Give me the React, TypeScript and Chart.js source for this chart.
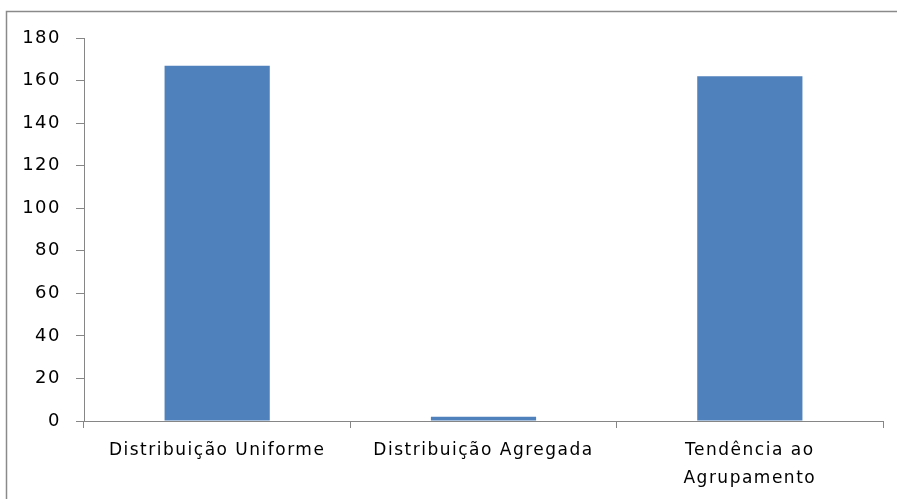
import React, { useEffect, useRef } from "react";
import { Chart, registerables } from "chart.js";

Chart.register(...registerables);

const categories: (string | string[])[] = [
  "Distribuição Uniforme",
  "Distribuição Agregada",
  ["Tendência ao", "Agrupamento"],
];
const values: number[] = [167, 2, 162];
const yMin = 0;
const yMax = 180;
const yStep = 20;

const spacing = {
  id: "spacing",
  beforeUpdate(chart: any) {
    chart.ctx.letterSpacing = "1.5px";
  },
  beforeDraw(chart: any) {
    chart.ctx.letterSpacing = "1.5px";
  },
};

const frame = {
  id: "frame",
  afterDraw(chart: any) {
    const ctx = chart.ctx;
    ctx.save();
    ctx.strokeStyle = "#8a8a8a";
    ctx.lineWidth = 1.5;
    ctx.beginPath();
    ctx.moveTo(897, 11.5);
    ctx.lineTo(6.5, 11.5);
    ctx.lineTo(6.5, 499);
    ctx.stroke();
    ctx.restore();
  },
};

export default function App() {
  const ref = useRef<HTMLCanvasElement>(null);
  useEffect(() => {
    if (!ref.current) return;
    const chart = new Chart(ref.current, {
      type: "bar",
      data: {
        labels: categories,
        datasets: [
          {
            data: values,
            backgroundColor: "#4F81BD",
            categoryPercentage: 1,
            barPercentage: 0.395,
          },
        ],
      },
      options: {
        responsive: false,
        animation: false,
        devicePixelRatio: 1,
        layout: { padding: { top: 38, right: 14, left: 0, bottom: 0 } },
        plugins: { legend: { display: false }, tooltip: { enabled: false } },
        scales: {
          x: {
            offset: true,
            grid: {
              offset: true,
              drawOnChartArea: false,
              drawTicks: true,
              tickLength: 7,
              color: "#868686",
            },
            border: { display: true, color: "#868686" },
            ticks: {
              color: "#000",
              font: { family: "DejaVu Sans", size: 17, lineHeight: 1.65 },
              padding: 9,
              maxRotation: 0,
              autoSkip: false,
            },
            afterFit(scale: any) {
              scale.height = 78;
            },
          },
          y: {
            min: yMin,
            max: yMax,
            grid: {
              drawOnChartArea: false,
              drawTicks: true,
              tickLength: 8,
              color: "#868686",
            },
            border: { display: true, color: "#868686" },
            ticks: {
              stepSize: yStep,
              color: "#000",
              font: { family: "DejaVu Sans", size: 18 },
              padding: 15,
            },
            afterFit(scale: any) {
              scale.width = 84;
            },
          },
        },
      },
      plugins: [spacing, frame],
    });
    return () => chart.destroy();
  }, []);
  return (
    <div style={{ position: "fixed", left: 0, top: 0, width: 897, height: 499, background: "#fff" }}>
      <canvas ref={ref} width={897} height={499} style={{ display: "block" }} />
    </div>
  );
}
